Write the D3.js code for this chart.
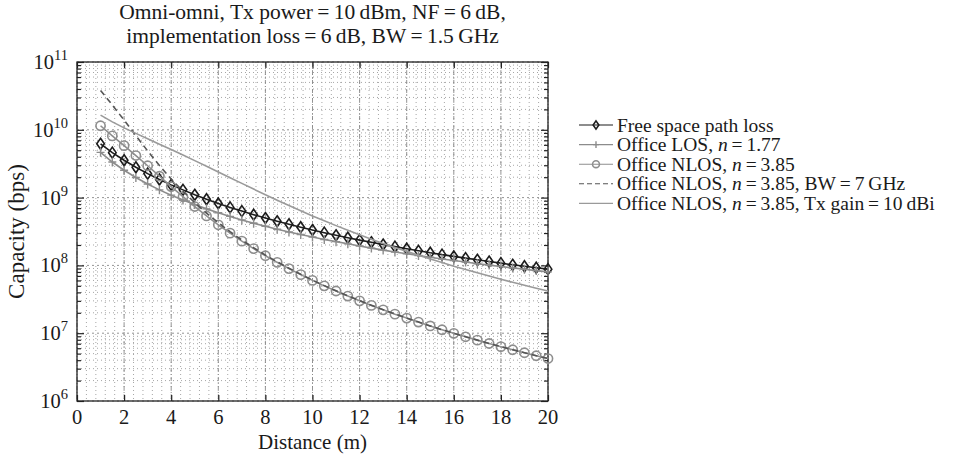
<!DOCTYPE html>
<html>
<head>
<meta charset="utf-8">
<script src="https://cdn.jsdelivr.net/npm/d3@7"></script>
<style>
  body { margin: 0; background: #fff; }
  text { font-family: "Liberation Serif", "Times New Roman", serif; fill: #1a1a1a; }
</style>
</head>
<body>
<svg id="chart" width="965" height="459"></svg>
<script>
// distances in metres, one point every 0.5 m
var distance = [1, 1.5, 2, 2.5, 3, 3.5, 4, 4.5, 5, 5.5, 6, 6.5, 7, 7.5, 8, 8.5, 9, 9.5, 10,
  10.5, 11, 11.5, 12, 12.5, 13, 13.5, 14, 14.5, 15, 15.5, 16, 16.5, 17, 17.5, 18, 18.5, 19, 19.5, 20]

// capacity (bps)
var freeSpace = [6.21e9, 4.60e9, 3.55e9, 2.80e9, 2.26e9, 1.85e9, 1.54e9, 1.30e9, 1.10e9, 9.46e8,
  8.20e8, 7.17e8, 6.32e8, 5.60e8, 4.99e8, 4.47e8, 4.04e8, 3.66e8, 3.32e8, 3.04e8,
  2.78e8, 2.56e8, 2.36e8, 2.19e8, 2.03e8, 1.89e8, 1.76e8, 1.64e8, 1.54e8, 1.44e8,
  1.36e8, 1.28e8, 1.21e8, 1.14e8, 1.08e8, 1.02e8, 9.71e7, 9.25e7, 8.80e7]

var officeLos = [4.65e9, 3.35e9, 2.53e9, 1.98e9, 1.59e9, 1.30e9, 1.086e9, 9.20e8, 7.88e8, 6.82e8,
  5.98e8, 5.28e8, 4.69e8, 4.19e8, 3.77e8, 3.42e8, 3.11e8, 2.85e8, 2.62e8, 2.41e8,
  2.24e8, 2.08e8, 1.93e8, 1.80e8, 1.68e8, 1.58e8, 1.485e8, 1.40e8, 1.32e8, 1.245e8,
  1.18e8, 1.12e8, 1.06e8, 1.01e8, 9.63e7, 9.19e7, 8.78e7, 8.38e7, 8.03e7]

var officeNlos = [1.147e10, 8.13e9, 5.84e9, 4.17e9, 2.95e9, 2.07e9, 1.455e9, 1.03e9, 7.38e8, 5.36e8,
  3.97e8, 2.99e8, 2.28e8, 1.77e8, 1.39e8, 1.11e8, 8.97e7, 7.31e7, 6.01e7, 4.99e7,
  4.19e7, 3.53e7, 3.00e7, 2.57e7, 2.21e7, 1.91e7, 1.67e7, 1.46e7, 1.28e7, 1.125e7,
  9.96e6, 8.85e6, 7.90e6, 7.05e6, 6.33e6, 5.70e6, 5.15e6, 4.65e6, 4.23e6]

var nlosWideBand = [3.81e10, 2.32e10, 1.39e10, 8.20e9, 4.88e9, 2.98e9, 1.88e9, 1.24e9, 8.41e8, 5.89e8,
  4.26e8, 3.14e8, 2.37e8, 1.82e8, 1.42e8, 1.13e8, 9.09e7, 7.39e7, 6.07e7, 5.03e7,
  4.22e7, 3.55e7, 3.02e7, 2.58e7, 2.22e7, 1.92e7, 1.67e7, 1.46e7, 1.28e7, 1.125e7,
  9.96e6, 8.85e6, 7.90e6, 7.05e6, 6.33e6, 5.70e6, 5.15e6, 4.65e6, 4.23e6]

var nlosTxGain = [1.644e10, 1.307e10, 1.068e10, 8.85e9, 7.36e9, 6.13e9, 5.11e9, 4.24e9, 3.51e9, 2.90e9,
  2.39e9, 1.965e9, 1.62e9, 1.335e9, 1.103e9, 9.16e8, 7.64e8, 6.39e8, 5.37e8, 4.54e8,
  3.86e8, 3.29e8, 2.83e8, 2.44e8, 2.11e8, 1.84e8, 1.61e8, 1.41e8, 1.245e8, 1.10e8,
  9.75e7, 8.70e7, 7.78e7, 6.96e7, 6.25e7, 5.63e7, 5.10e7, 4.61e7, 4.19e7]

var xTicks = [0, 2, 4, 6, 8, 10, 12, 14, 16, 18, 20]
var yExponents = [6, 7, 8, 9, 10, 11]

var titleLines = ['Omni-omni, Tx power\u2009=\u200910\u2009dBm, NF\u2009=\u20096\u2009dB,',
  'implementation loss\u2009=\u20096\u2009dB, BW\u2009=\u20091.5\u2009GHz']

// legend entries: text parts, italic parts marked with true
var legendLabels = [
  [['Free space path loss', false]],
  [['Office LOS, ', false], ['n', true], ['\u2009=\u20091.77', false]],
  [['Office NLOS, ', false], ['n', true], ['\u2009=\u20093.85', false]],
  [['Office NLOS, ', false], ['n', true], ['\u2009=\u20093.85, BW\u2009=\u20097\u2009GHz', false]],
  [['Office NLOS, ', false], ['n', true], ['\u2009=\u20093.85, Tx gain\u2009=\u200910\u2009dBi', false]]
]

// set the dimensions and margins of the graph
var margin = { top: 62, right: 417, bottom: 58, left: 77 }
var W = 965, H = 459

var svg = d3.select('#chart')

var xScale = d3.scaleLinear()
  .domain([0, 20])
  .range([margin.left, W - margin.right])

var yScale = d3.scaleLog()
  .domain([1e6, 1e11])
  .range([H - margin.bottom, margin.top])

var plotL = margin.left, plotR = W - margin.right
var plotT = margin.top, plotB = H - margin.bottom

// grid: minor verticals every 0.4 m, log minors between decades
var xMinor = d3.range(0.4, 20, 0.4)
var yMinor = []
for (var e = 6; e < 11; e++) {
  for (var k = 2; k < 10; k++) yMinor.push(k * Math.pow(10, e))
}

var grid = svg.append('g')
grid.selectAll('.vminor').data(xMinor).enter().append('line')
  .attr('x1', d => xScale(d)).attr('x2', d => xScale(d))
  .attr('y1', plotT).attr('y2', plotB)
  .attr('stroke', '#9c9c9c').attr('stroke-width', 0.9).attr('stroke-dasharray', '1,3')
grid.selectAll('.hminor').data(yMinor).enter().append('line')
  .attr('x1', plotL).attr('x2', plotR)
  .attr('y1', d => yScale(d)).attr('y2', d => yScale(d))
  .attr('stroke', '#9c9c9c').attr('stroke-width', 0.9).attr('stroke-dasharray', '1,3')
grid.selectAll('.hmajor').data(yExponents).enter().append('line')
  .attr('x1', plotL).attr('x2', plotR)
  .attr('y1', d => yScale(Math.pow(10, d))).attr('y2', d => yScale(Math.pow(10, d)))
  .attr('stroke', '#888').attr('stroke-width', 0.9).attr('stroke-dasharray', '2,3')
grid.selectAll('.vmajor').data(xTicks).enter().append('line')
  .attr('x1', d => xScale(d)).attr('x2', d => xScale(d))
  .attr('y1', plotT).attr('y2', plotB)
  .attr('stroke', '#888').attr('stroke-width', 0.9).attr('stroke-dasharray', '4,2,1,2')

// axes with inward ticks on all four sides
var xAxis = d3.axisBottom(xScale).tickValues(xTicks).tickSize(-6).tickFormat('')
var xAxisTop = d3.axisTop(xScale).tickValues(xTicks).tickSize(-6).tickFormat('')
var yMinorAxis = d3.axisLeft(yScale).tickValues(yMinor).tickSize(-4).tickFormat('')
var yMinorAxisR = d3.axisRight(yScale).tickValues(yMinor).tickSize(-4).tickFormat('')
var yMajor = yExponents.map(d => Math.pow(10, d))
var yAxis = d3.axisLeft(yScale).tickValues(yMajor).tickSize(-7).tickFormat('')
var yAxisR = d3.axisRight(yScale).tickValues(yMajor).tickSize(-7).tickFormat('')

function styleAxis(g) {
  g.select('.domain').remove()
  g.selectAll('line').attr('stroke', '#222').attr('stroke-width', 1.2)
}
svg.append('g').attr('transform', 'translate(0,' + plotB + ')').call(xAxis).call(styleAxis)
svg.append('g').attr('transform', 'translate(0,' + plotT + ')').call(xAxisTop).call(styleAxis)
svg.append('g').attr('transform', 'translate(' + plotL + ',0)').call(yMinorAxis).call(styleAxis)
svg.append('g').attr('transform', 'translate(' + plotR + ',0)').call(yMinorAxisR).call(styleAxis)
svg.append('g').attr('transform', 'translate(' + plotL + ',0)').call(yAxis).call(styleAxis)
svg.append('g').attr('transform', 'translate(' + plotR + ',0)').call(yAxisR).call(styleAxis)

svg.append('rect')
  .attr('x', plotL).attr('y', plotT)
  .attr('width', plotR - plotL).attr('height', plotB - plotT)
  .attr('fill', 'none').attr('stroke', '#222').attr('stroke-width', 1.3)

// tick labels
svg.selectAll('.xlabel').data(xTicks).enter().append('text')
  .attr('x', d => xScale(d)).attr('y', plotB + 23)
  .attr('text-anchor', 'middle').attr('font-size', 20.5)
  .text(d => d)

var yLab = svg.selectAll('.ylabel').data(yExponents).enter().append('text')
  .attr('x', plotL - 9).attr('y', d => yScale(Math.pow(10, d)) + 7)
  .attr('text-anchor', 'end').attr('font-size', 20.5)
yLab.append('tspan').text('10')
yLab.append('tspan').attr('dy', -9).attr('font-size', 14.5).text(d => d)

// titles
svg.selectAll('.title').data(titleLines).enter().append('text')
  .attr('x', (plotL + plotR) / 2).attr('y', (d, i) => 19 + i * 23.5)
  .attr('text-anchor', 'middle').attr('font-size', 21.5)
  .text(d => d)

svg.append('text')
  .attr('x', (plotL + plotR) / 2).attr('y', 449)
  .attr('text-anchor', 'middle').attr('font-size', 21)
  .text('Distance (m)')

svg.append('text')
  .attr('transform', 'translate(24,' + ((plotT + plotB) / 2) + ') rotate(-90)')
  .attr('text-anchor', 'middle').attr('font-size', 23)
  .text('Capacity (bps)')

// series
var series = [
  { values: freeSpace, color: '#1c1c1c', width: 1.6, dash: null, marker: 'diamond' },
  { values: officeLos, color: '#8c8c8c', width: 1.6, dash: null, marker: 'plus' },
  { values: officeNlos, color: '#8e8e8e', width: 1.6, dash: null, marker: 'circle' },
  { values: nlosWideBand, color: '#555', width: 1.6, dash: '6,4', marker: null },
  { values: nlosTxGain, color: '#9a9a9a', width: 1.6, dash: null, marker: null }
]

var line = d3.line()
  .x(d => xScale(d[0]))
  .y(d => yScale(d[1]))

function drawMarker(g, type, color, big) {
  var s = big ? 1 : 0.75
  if (type === 'diamond') {
    g.append('path')
      .attr('d', 'M0,' + (-5.5 * s) + 'L' + (3.8 * s) + ',0L0,' + (5.5 * s) + 'L' + (-3.8 * s) + ',0Z')
      .attr('fill', 'none').attr('stroke', color).attr('stroke-width', 1.6)
  } else if (type === 'circle') {
    g.append('circle').attr('r', 4.6 * s)
      .attr('fill', 'none').attr('stroke', color).attr('stroke-width', 1.6)
  } else if (type === 'plus') {
    g.append('path')
      .attr('d', 'M' + (-4 * s) + ',0H' + (4 * s) + 'M0,' + (-4.5 * s) + 'V' + (4.5 * s))
      .attr('stroke', color).attr('stroke-width', 1.4)
  }
}

var plot = svg.append('g')
series.forEach(function(s) {
  var pts = distance.map((d, i) => [d, s.values[i]])
  plot.append('path')
    .datum(pts)
    .attr('d', line)
    .attr('fill', 'none')
    .attr('stroke', s.color)
    .attr('stroke-width', s.width)
    .attr('stroke-dasharray', s.dash)
  if (s.marker) {
    pts.forEach(function(p) {
      var g = plot.append('g').attr('transform', 'translate(' + xScale(p[0]) + ',' + yScale(p[1]) + ')')
      drawMarker(g, s.marker, s.color, true)
    })
  }
})

// legend
var legend = svg.append('g')
legendLabels.forEach(function(parts, i) {
  var s = series[i]
  var yy = 125 + i * 19.6
  legend.append('line')
    .attr('x1', 579).attr('x2', 613).attr('y1', yy).attr('y2', yy)
    .attr('stroke', s.color).attr('stroke-width', 1.1)
    .attr('stroke-dasharray', s.dash ? '5,3' : null)
  if (s.marker) {
    var g = legend.append('g').attr('transform', 'translate(596,' + yy + ')')
    drawMarker(g, s.marker, s.color, false)
  }
  var t = legend.append('text')
    .attr('x', 617).attr('y', yy + 6.5).attr('font-size', 19.5)
  parts.forEach(function(p) {
    t.append('tspan').attr('font-style', p[1] ? 'italic' : null).text(p[0])
  })
})
</script>
</body>
</html>
